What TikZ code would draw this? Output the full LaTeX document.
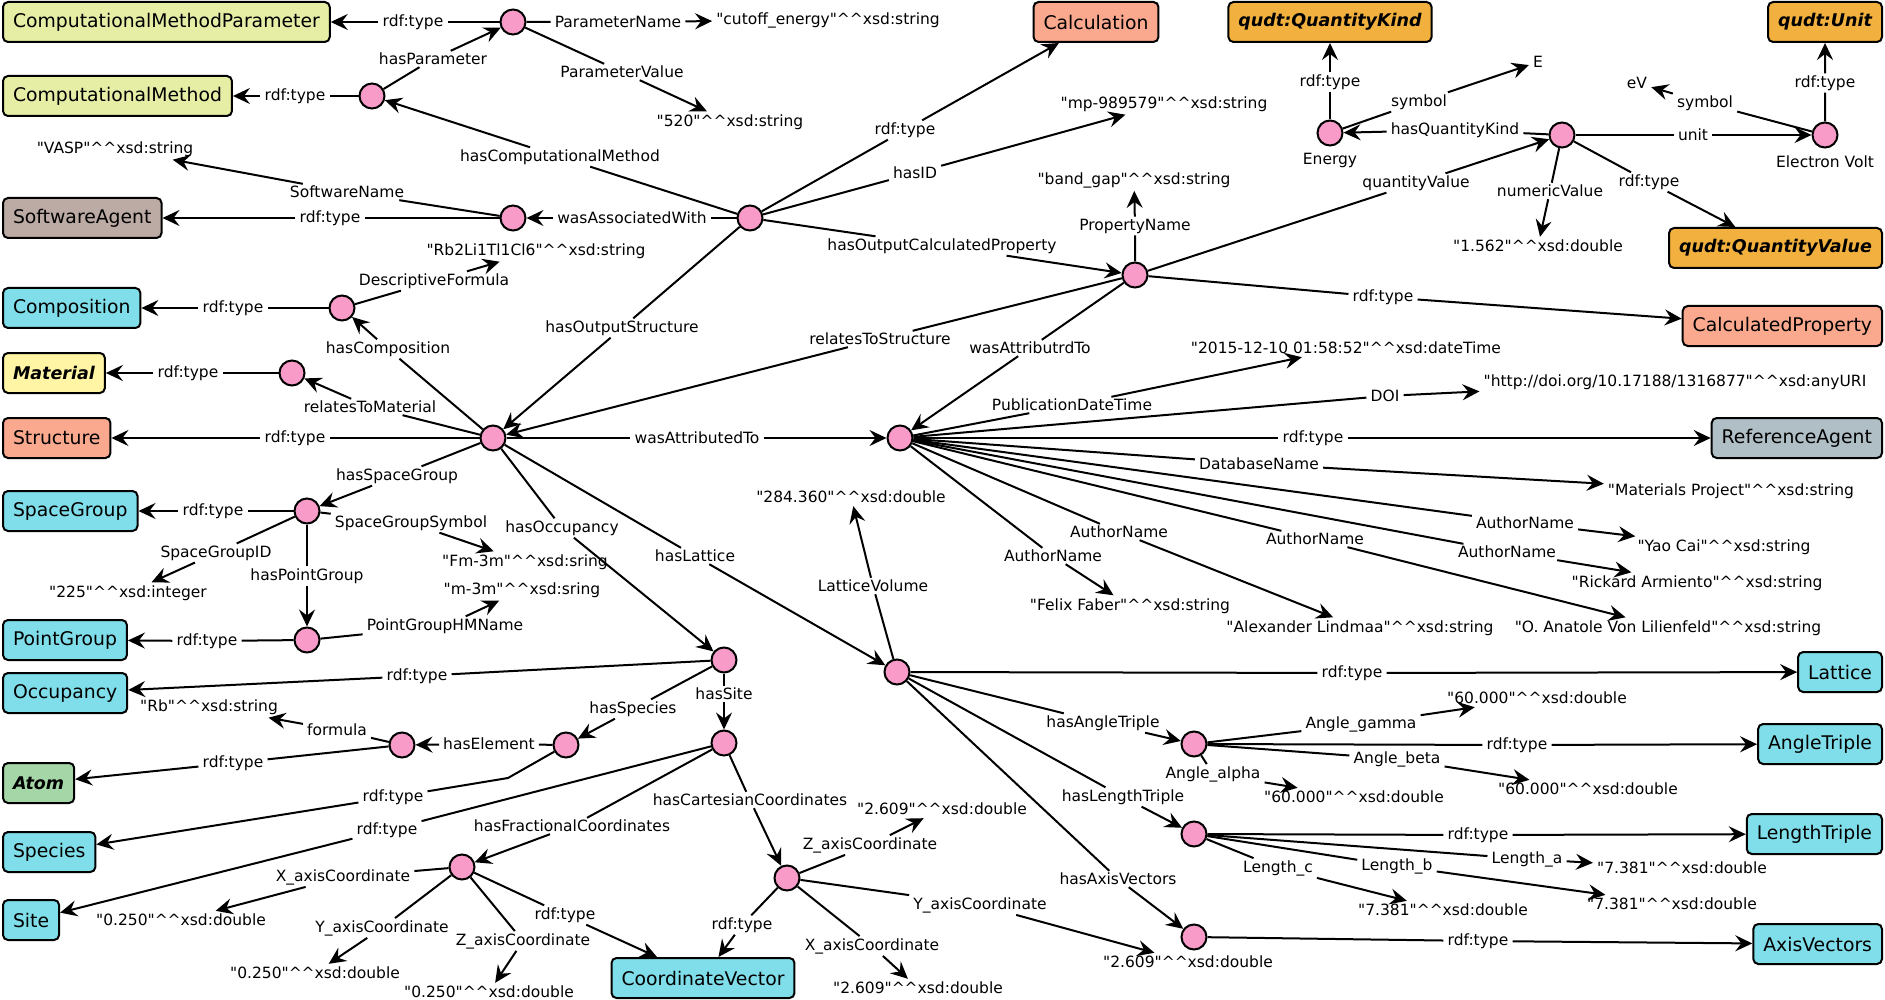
\documentclass[tikz,border=0pt]{standalone}
\usepackage{fontspec}
\setmainfont{DejaVu Sans}
\usepackage{tikz}
\usetikzlibrary{arrows.meta}
\definecolor{methodc}{HTML}{E6EEA6}
\definecolor{agentc}{HTML}{BCAAA4}
\definecolor{cyanc}{HTML}{80DEEA}
\definecolor{matc}{HTML}{FFF5A5}
\definecolor{salmonc}{HTML}{FAA98E}
\definecolor{qudtc}{HTML}{F2B13F}
\definecolor{refc}{HTML}{B0BEC5}
\definecolor{atomc}{HTML}{A5D6A7}
\definecolor{blankc}{HTML}{F89BC8}
\newcommand{\lblfont}{\fontsize{15.5}{18}\selectfont}
\newcommand{\clsfont}{\fontsize{18.8}{22}\selectfont}
\newcommand{\xsdlit}[2]{\textquotedbl#1\textquotedbl\textasciicircum\textasciicircum xsd:#2}

\tikzset{
  blank/.style={circle,draw,fill=blankc,line width=2pt,minimum size=25pt,inner sep=0pt},
  cls/.style={draw,rounded corners=5pt,line width=2pt,minimum height=40pt,inner xsep=10pt,inner ysep=0pt,font=\clsfont},
  ocls/.style={cls,fill=qudtc,font={\fontsize{17.5}{21}\selectfont\bfseries\itshape}},
  prop/.style={inner xsep=4pt,inner ysep=2pt,font=\lblfont},
  val/.style={inner xsep=4pt,inner ysep=3pt,font=\lblfont},
  rel/.style={line width=2pt,-{Stealth[length=17pt,width=16pt,inset=6pt]}},
}

\begin{document}
\begin{tikzpicture}[x=1pt,y=-1pt]
\fill[white] (0,0) rectangle (1885,1000);
\useasboundingbox (0,0) rectangle (1885,1000);

% classes
\node[cls,fill=methodc,anchor=west] (cmpBox) at (2,22) {ComputationalMethodParameter};
\node[cls,fill=methodc,anchor=west] (cmBox) at (2,96) {ComputationalMethod};
\node[cls,fill=agentc,anchor=west] (saBox) at (2,218) {SoftwareAgent};
\node[cls,fill=cyanc,anchor=west] (compBox) at (2,308) {Composition};
\node[ocls,fill=matc,anchor=west] (matBox) at (2,373) {Material};
\node[cls,fill=salmonc,anchor=west] (stBox) at (2,438) {Structure};
\node[cls,fill=cyanc,anchor=west] (sgBox) at (2,511) {SpaceGroup};
\node[cls,fill=cyanc,anchor=west] (pgBox) at (2,640) {PointGroup};
\node[cls,fill=cyanc,anchor=west] (occBox) at (2,693) {Occupancy};
\node[ocls,fill=atomc,anchor=west] (atomBox) at (2,783) {Atom};
\node[cls,fill=cyanc,anchor=west] (spBox) at (2,852) {Species};
\node[cls,fill=cyanc,anchor=west] (siteBox) at (2,920) {Site};
\node[cls,fill=cyanc] (cvBox) at (703,978) {CoordinateVector};
\node[cls,fill=salmonc] (calcBox) at (1096,22) {Calculation};
\node[ocls] (qkBox) at (1330,22) {qudt:QuantityKind};
\node[ocls,anchor=east] (unitBox) at (1883,22) {qudt:Unit};
\node[ocls,anchor=east] (qvBox) at (1883,248) {qudt:QuantityValue};
\node[cls,fill=salmonc,anchor=east] (cpBox) at (1883,326) {CalculatedProperty};
\node[cls,fill=refc,anchor=east] (raBox) at (1883,438) {ReferenceAgent};
\node[cls,fill=cyanc,anchor=east] (latBox) at (1883,672) {Lattice};
\node[cls,fill=cyanc,anchor=east] (atBox) at (1883,744) {AngleTriple};
\node[cls,fill=cyanc,anchor=east] (ltBox) at (1883,834) {LengthTriple};
\node[cls,fill=cyanc,anchor=east] (avBox) at (1883,944) {AxisVectors};

% blank nodes
\node[blank] (p1) at (513,22) {};
\node[blank] (cm) at (372,96) {};
\node[blank] (w) at (513,218) {};
\node[blank] (c) at (750,218) {};
\node[blank] (comp) at (342,308) {};
\node[blank] (mat) at (292,373) {};
\node[blank] (s) at (493,438) {};
\node[blank] (sg) at (307,511) {};
\node[blank] (pg) at (307,640) {};
\node[blank] (occ) at (724,660) {};
\node[blank] (si) at (724,743) {};
\node[blank] (sp) at (566,745) {};
\node[blank] (el) at (402,745) {};
\node[blank] (fr) at (462,867) {};
\node[blank] (ca) at (787,878) {};
\node[blank] (cp) at (1135,275) {};
\node[blank,label={[prop,label distance=5pt]below:Energy}] (en) at (1330,133) {};
\node[blank] (qv) at (1562,135) {};
\node[blank,label={[prop,label distance=5pt]below:Electron Volt}] (ev) at (1825,135) {};
\node[blank] (r) at (900,438) {};
\node[blank] (lat) at (897,672) {};
\node[blank] (at) at (1194,744) {};
\node[blank] (lt) at (1194,834) {};
\node[blank] (av) at (1194,937) {};

% literals
\node[val] (lCut) at (828,20) {\xsdlit{cutoff\_energy}{string}};
\node[val] (l520) at (730,122) {\xsdlit{520}{string}};
\node[val] (lVasp) at (115,149) {\xsdlit{VASP}{string}};
\node[val] (lRb2) at (536,251) {\xsdlit{Rb2Li1Tl1Cl6}{string}};
\node[val] (l225) at (128,593) {\xsdlit{225}{integer}};
\node[val] (lFm) at (525,562) {\xsdlit{Fm-3m}{sring}};
\node[val] (lM3m) at (522,590) {\xsdlit{m-3m}{sring}};
\node[val] (lRbs) at (209,707) {\xsdlit{Rb}{string}};
\node[val] (lX) at (181,920) {\xsdlit{0.250}{double}};
\node[val] (lY) at (315,973) {\xsdlit{0.250}{double}};
\node[val] (lZ) at (489,992) {\xsdlit{0.250}{double}};
\node[val] (lCZ) at (942,809) {\xsdlit{2.609}{double}};
\node[val] (lCY) at (1188,962) {\xsdlit{2.609}{double}};
\node[val] (lCX) at (918,988) {\xsdlit{2.609}{double}};
\node[val] (lMp) at (1164,104) {\xsdlit{mp-989579}{string}};
\node[val] (lBand) at (1134,180) {\xsdlit{band\_gap}{string}};
\node[val] (lE) at (1538,62) {E};
\node[val] (lNum) at (1538,246) {\xsdlit{1.562}{double}};
\node[val] (leV) at (1637,83) {eV};
\node[val] (lDate) at (1346,348) {\xsdlit{2015-12-10 01:58:52}{dateTime}};
\node[val] (lDoi) at (1675,382) {\xsdlit{http://doi.org/10.17188/1316877}{anyURI}};
\node[val] (lDb) at (1731,491) {\xsdlit{Materials Project}{string}};
\node[val] (lYao) at (1724,547) {\xsdlit{Yao Cai}{string}};
\node[val] (lRick) at (1697,583) {\xsdlit{Rickard Armiento}{string}};
\node[val] (lOat) at (1668,628) {\xsdlit{O. Anatole Von Lilienfeld}{string}};
\node[val] (lAlex) at (1360,628) {\xsdlit{Alexander Lindmaa}{string}};
\node[val] (lFelix) at (1130,606) {\xsdlit{Felix Faber}{string}};
\node[val] (lVol) at (851,497) {\xsdlit{284.360}{double}};
\node[val] (lGam) at (1537,698) {\xsdlit{60.000}{double}};
\node[val] (lBeta) at (1588,789) {\xsdlit{60.000}{double}};
\node[val] (lAlpha) at (1354,797) {\xsdlit{60.000}{double}};
\node[val] (lLa) at (1682,868) {\xsdlit{7.381}{double}};
\node[val] (lLb) at (1672,904) {\xsdlit{7.381}{double}};
\node[val] (lLc) at (1443,910) {\xsdlit{7.381}{double}};

% property labels
\node[prop] (t1) at (413,22) {rdf:type};
\node[prop] (t2) at (618,22) {ParameterName};
\node[prop] (t3) at (622,72) {ParameterValue};
\node[prop] (t4) at (433,59) {hasParameter};
\node[prop] (t5) at (295,96) {rdf:type};
\node[prop] (t6) at (560,157) {hasComputationalMethod};
\node[prop] (t7) at (632,218) {wasAssociatedWith};
\node[prop] (t8) at (330,218) {rdf:type};
\node[prop] (t9) at (347,192) {SoftwareName};
\node[prop] (t10) at (434,281) {DescriptiveFormula};
\node[prop] (t11) at (233,308) {rdf:type};
\node[prop] (t12) at (388,349) {hasComposition};
\node[prop] (t13) at (370,407) {relatesToMaterial};
\node[prop] (t14) at (188,373) {rdf:type};
\node[prop] (t15) at (295,438) {rdf:type};
\node[prop] (t16) at (397,476) {hasSpaceGroup};
\node[prop] (t17) at (213,511) {rdf:type};
\node[prop] (t18) at (216,553) {SpaceGroupID};
\node[prop] (t19) at (411,523) {SpaceGroupSymbol};
\node[prop] (t20) at (307,576) {hasPointGroup};
\node[prop] (t21) at (207,641) {rdf:type};
\node[prop] (t22) at (445,626) {PointGroupHMName};
\node[prop] (t23) at (562,528) {hasOccupancy};
\node[prop] (t24) at (417,676) {rdf:type};
\node[prop] (t25) at (724,694) {hasSite};
\node[prop] (t26) at (633,709) {hasSpecies};
\node[prop] (t27) at (489,744) {hasElement};
\node[prop] (t28) at (233,763) {rdf:type};
\node[prop] (t29) at (337,730) {formula};
\node[prop] (t30) at (393,797) {rdf:type};
\node[prop] (t31) at (387,830) {rdf:type};
\node[prop] (t32) at (572,826) {hasFractionalCoordinates};
\node[prop] (t33) at (750,800) {hasCartesianCoordinates};
\node[prop] (t34) at (343,877) {X\_axisCoordinate};
\node[prop] (t35) at (382,928) {Y\_axisCoordinate};
\node[prop] (t36) at (523,941) {Z\_axisCoordinate};
\node[prop] (t37) at (565,915) {rdf:type};
\node[prop] (t38) at (742,925) {rdf:type};
\node[prop] (t39) at (870,845) {Z\_axisCoordinate};
\node[prop] (t40) at (980,905) {Y\_axisCoordinate};
\node[prop] (t41) at (872,946) {X\_axisCoordinate};
\node[prop] (t42) at (695,556) {hasLattice};
\node[prop] (t43) at (697,438) {wasAttributedTo};
\node[prop] (t44) at (622,328) {hasOutputStructure};
\node[prop] (t45) at (905,130) {rdf:type};
\node[prop] (t46) at (915,173) {hasID};
\node[prop] (t47) at (942,246) {hasOutputCalculatedProperty};
\node[prop] (t48) at (880,339) {relatesToStructure};
\node[prop] (t49) at (1030,348) {wasAttributrdTo};
\node[prop] (t50) at (1135,226) {PropertyName};
\node[prop] (t51) at (1416,183) {quantityValue};
\node[prop] (t52) at (1383,297) {rdf:type};
\node[prop] (t53) at (1455,130) {hasQuantityKind};
\node[prop] (t54) at (1330,82) {rdf:type};
\node[prop] (t55) at (1419,102) {symbol};
\node[prop] (t56) at (1693,135) {unit};
\node[prop] (t57) at (1550,191) {numericValue};
\node[prop] (t58) at (1649,182) {rdf:type};
\node[prop] (t59) at (1825,83) {rdf:type};
\node[prop] (t60) at (1705,103) {symbol};
\node[prop] (t61) at (1313,438) {rdf:type};
\node[prop] (t62) at (1072,405) {PublicationDateTime};
\node[prop] (t63) at (1385,396) {DOI};
\node[prop] (t64) at (1259,464) {DatabaseName};
\node[prop] (t65) at (1525,523) {AuthorName};
\node[prop] (t66) at (1507,552) {AuthorName};
\node[prop] (t67) at (1315,539) {AuthorName};
\node[prop] (t68) at (1119,532) {AuthorName};
\node[prop] (t69) at (1053,556) {AuthorName};
\node[prop] (t70) at (873,586) {LatticeVolume};
\node[prop] (t71) at (1352,673) {rdf:type};
\node[prop] (t72) at (1103,723) {hasAngleTriple};
\node[prop] (t73) at (1123,797) {hasLengthTriple};
\node[prop] (t74) at (1118,879) {hasAxisVectors};
\node[prop] (t75) at (1517,745) {rdf:type};
\node[prop] (t76) at (1361,724) {Angle\_gamma};
\node[prop] (t77) at (1397,759) {Angle\_beta};
\node[prop] (t78) at (1213,774) {Angle\_alpha};
\node[prop] (t79) at (1478,835) {rdf:type};
\node[prop] (t80) at (1527,859) {Length\_a};
\node[prop] (t81) at (1397,866) {Length\_b};
\node[prop] (t82) at (1278,868) {Length\_c};
\node[prop] (t83) at (1478,941) {rdf:type};
\coordinate (spk) at (508,778);

% edges
\draw[rel] (p1) -- (t1) -- (cmpBox);
\draw[rel] (p1) -- (t2) -- (lCut);
\draw[rel] (p1) -- (t3) -- (l520);
\draw[rel] (cm) -- (t4) -- (p1);
\draw[rel] (cm) -- (t5) -- (cmBox);
\draw[rel] (c) -- (t6) -- (cm);
\draw[rel] (c) -- (t7) -- (w);
\draw[rel] (w) -- (t8) -- (saBox);
\draw[rel] (w) -- (t9) -- (lVasp);
\draw[rel] (comp) -- (t10) -- (lRb2);
\draw[rel] (comp) -- (t11) -- (compBox);
\draw[rel] (s) -- (t12) -- (comp);
\draw[rel] (s) -- (t13) -- (mat);
\draw[rel] (mat) -- (t14) -- (matBox);
\draw[rel] (s) -- (t15) -- (stBox);
\draw[rel] (s) -- (t16) -- (sg);
\draw[rel] (sg) -- (t17) -- (sgBox);
\draw[rel] (sg) -- (t18) -- (l225);
\draw[rel] (sg) -- (t19) -- (lFm);
\draw[rel] (sg) -- (t20) -- (pg);
\draw[rel] (pg) -- (t21) -- (pgBox);
\draw[rel] (pg) -- (t22) -- (lM3m);
\draw[rel] (s) -- (t23) -- (occ);
\draw[rel] (occ) -- (t24) -- (occBox);
\draw[rel] (occ) -- (t25) -- (si);
\draw[rel] (occ) -- (t26) -- (sp);
\draw[rel] (sp) -- (t27) -- (el);
\draw[rel] (el) -- (t28) -- (atomBox);
\draw[rel] (el) -- (t29) -- (lRbs);
\draw[rel] (sp) -- (spk) -- (t30) -- (spBox);
\draw[rel] (si) -- (t31) -- (siteBox);
\draw[rel] (si) -- (t32) -- (fr);
\draw[rel] (si) -- (t33) -- (ca);
\draw[rel] (fr) -- (t34) -- (lX);
\draw[rel] (fr) -- (t35) -- (lY);
\draw[rel] (fr) -- (t36) -- (lZ);
\draw[rel] (fr) -- (t37) -- (cvBox);
\draw[rel] (ca) -- (t38) -- (cvBox);
\draw[rel] (ca) -- (t39) -- (lCZ);
\draw[rel] (ca) -- (t40) -- (lCY);
\draw[rel] (ca) -- (t41) -- (lCX);
\draw[rel] (s) -- (t42) -- (lat);
\draw[rel] (s) -- (t43) -- (r);
\draw[rel] (c) -- (t44) -- (s);
\draw[rel] (c) -- (t45) -- (calcBox);
\draw[rel] (c) -- (t46) -- (lMp);
\draw[rel] (c) -- (t47) -- (cp);
\draw[rel] (cp) -- (t48) -- (s);
\draw[rel] (cp) -- (t49) -- (r);
\draw[rel] (cp) -- (t50) -- (lBand);
\draw[rel] (cp) -- (t51) -- (qv);
\draw[rel] (cp) -- (t52) -- (cpBox);
\draw[rel] (qv) -- (t53) -- (en);
\draw[rel] (en) -- (t54) -- (qkBox);
\draw[rel] (en) -- (t55) -- (lE);
\draw[rel] (qv) -- (t56) -- (ev);
\draw[rel] (qv) -- (t57) -- (lNum);
\draw[rel] (qv) -- (t58) -- (qvBox);
\draw[rel] (ev) -- (t59) -- (unitBox);
\draw[rel] (ev) -- (t60) -- (leV);
\draw[rel] (r) -- (t61) -- (raBox);
\draw[rel] (r) -- (t62) -- (lDate);
\draw[rel] (r) -- (t63) -- (lDoi);
\draw[rel] (r) -- (t64) -- (lDb);
\draw[rel] (r) -- (t65) -- (lYao);
\draw[rel] (r) -- (t66) -- (lRick);
\draw[rel] (r) -- (t67) -- (lOat);
\draw[rel] (r) -- (t68) -- (lAlex);
\draw[rel] (r) -- (t69) -- (lFelix);
\draw[rel] (lat) -- (t70) -- (lVol);
\draw[rel] (lat) -- (t71) -- (latBox);
\draw[rel] (lat) -- (t72) -- (at);
\draw[rel] (lat) -- (t73) -- (lt);
\draw[rel] (lat) -- (t74) -- (av);
\draw[rel] (at) -- (t75) -- (atBox);
\draw[rel] (at) -- (t76) -- (lGam);
\draw[rel] (at) -- (t77) -- (lBeta);
\draw[rel] (at) -- (t78) -- (lAlpha);
\draw[rel] (lt) -- (t79) -- (ltBox);
\draw[rel] (lt) -- (t80) -- (lLa);
\draw[rel] (lt) -- (t81) -- (lLb);
\draw[rel] (lt) -- (t82) -- (lLc);
\draw[rel] (av) -- (t83) -- (avBox);
\end{tikzpicture}
\end{document}
